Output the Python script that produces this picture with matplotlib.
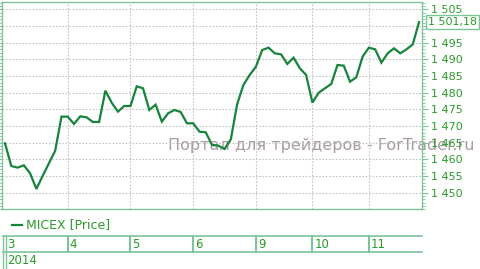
import matplotlib
matplotlib.use('Agg')
import matplotlib.pyplot as plt
from matplotlib.lines import Line2D
from matplotlib.ticker import MultipleLocator, FixedLocator, FuncFormatter
import matplotlib.transforms as mtransforms

# hourly MICEX values
prices = [1464.8, 1458.0, 1457.5, 1458.2, 1455.8, 1451.1, 1455.0, 1458.8, 1462.6, 1472.8,
          1472.8, 1470.6, 1472.9, 1472.6, 1471.2, 1471.2, 1480.6, 1477.0, 1474.3, 1476.0,
          1476.0, 1481.9, 1481.3, 1474.8, 1476.4, 1471.3, 1473.8, 1474.8, 1474.2, 1470.8,
          1470.8, 1468.3, 1468.1, 1464.3, 1464.1, 1463.1, 1466.0, 1476.5, 1482.3, 1485.3,
          1487.8, 1492.8, 1493.5, 1491.8, 1491.5, 1488.6, 1490.5, 1487.3, 1485.3, 1477.0,
          1480.0, 1481.3, 1482.6, 1488.3, 1488.1, 1483.3, 1484.6, 1490.8, 1493.5, 1493.0,
          1489.0, 1491.8, 1493.3, 1491.8, 1493.0, 1494.5, 1501.18]
day_labels = ['3', '4', '5', '6', '9', '10', '11']
points_per_day = [10, 10, 10, 10, 9, 9, 9]
year_label = '2014'
series_name = 'MICEX [Price]'
last_label = '1 501,18'
y_ticks = list(range(1450, 1506, 5))

line_col = '#17843c'
frame_col = '#7cc49a'
text_col = '#2a9a2a'
grid_col = '#c4c4c4'

plt.rcParams['font.family'] = 'DejaVu Sans'

W, H = 481, 269
fig = plt.figure(figsize=(W / 100, H / 100), dpi=100)
ax = fig.add_axes([2 / W, 1 - 209.3 / H, 420.5 / W, 207.3 / H])

# watermark, under the line
ax.text(0.76, 0.31, 'Портал для трейдеров - ForTrader.ru', transform=ax.transAxes,
        ha='center', va='center', fontsize=11.5, color='#a89c9c', clip_on=False, zorder=0)

xs = list(range(len(prices)))
ax.plot(xs, prices, color=line_col, lw=1.6, solid_joinstyle='miter', zorder=3)

day_start = []
n = 0
for c in points_per_day:
    day_start.append(n)
    n += c

ax.set_xlim(-0.48, 66.55)
ax.set_ylim(1445.0, 1507.2)

ax.set_xticks(day_start[1:])
ax.tick_params(axis='x', length=0, labelbottom=False)
ax.yaxis.set_major_locator(FixedLocator(y_ticks))
ax.yaxis.set_minor_locator(MultipleLocator(1))
# the 1 500 label sits under the last price tag
ax.yaxis.set_major_formatter(FuncFormatter(
    lambda v, p: '' if abs(v - 1500) < 0.1 else f'{int(v):,}'.replace(',', ' ')))
ax.yaxis.tick_right()
ax.tick_params(axis='y', which='both', left=True, right=True, direction='out',
               color=frame_col, labelcolor=text_col, labelsize=8, pad=2)
ax.tick_params(axis='y', which='major', length=4, width=0.8)
ax.tick_params(axis='y', which='minor', length=2, width=0.6)
ax.grid(True, which='major', color=grid_col, linestyle=(0, (1.5, 1.5)), lw=0.8)
for s in ax.spines.values():
    s.set_color(frame_col)
    s.set_linewidth(1)

# last price tag
tr = mtransforms.blended_transform_factory(ax.transAxes, ax.transData)
ax.text(1.013, prices[-1], last_label, transform=tr, ha='left', va='center',
        fontsize=8, color=text_col,
        bbox=dict(boxstyle='square,pad=0.2', fc='white', ec=frame_col, lw=1))

# legend
fig.add_artist(Line2D([12 / W, 22 / W], [1 - 225 / H] * 2, color=line_col, lw=1.6))
fig.text(26 / W, 1 - 225 / H, series_name, fontsize=9, color=text_col, va='center')

# date table under the chart
bt = mtransforms.blended_transform_factory(ax.transData, fig.transFigure)
y_top, y_mid = 1 - 235.7 / H, 1 - 252.3 / H
fig.add_artist(Line2D([2.7 / W, 421.7 / W], [y_top, y_top], color=frame_col, lw=1.2))
fig.add_artist(Line2D([2.7 / W, 421.7 / W], [y_mid, y_mid], color=frame_col, lw=1.2))
for xv in (2.7, 5.7):
    fig.add_artist(Line2D([xv / W, xv / W], [0, y_top], color=frame_col, lw=1))
for d, lab in zip(day_start, day_labels):
    if d > 0:
        fig.add_artist(Line2D([d, d], [y_mid, y_top], color=frame_col, lw=1.5, transform=bt))
    fig.text(d + 0.3, (y_top + y_mid) / 2, lab, transform=bt, fontsize=8.5,
             color=text_col, va='center', ha='left')
fig.text(7 / W, y_mid / 2, year_label, fontsize=8.5, color=text_col, va='center', ha='left')

fig.savefig('out.png', dpi=100)
